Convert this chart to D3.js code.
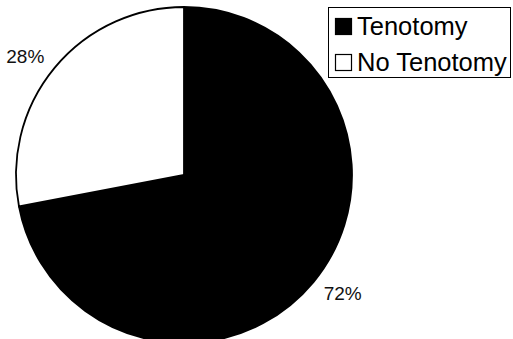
<!DOCTYPE html>
<html>
<head>
<meta charset="utf-8">
<script src="https://cdn.jsdelivr.net/npm/d3@7"></script>
<style>
  html, body { margin: 0; padding: 0; background: #fff; }
  svg { display: block; font-family: "Liberation Sans", Arial, sans-serif; }
</style>
</head>
<body>
<svg id="chart" width="513" height="339"></svg>
<script>
const categories = ["Tenotomy", "No Tenotomy"];
const values = [72, 28];
const labels = ["72%", "28%"];
const fills = ["#000000", "#ffffff"];

const svg = d3.select("#chart");
const cx = 184, cy = 175, r = 168;

const pie = d3.pie().sort(null).value(d => d)(values);
const arc = d3.arc().innerRadius(0).outerRadius(r);
const labelArc = d3.arc().innerRadius(200).outerRadius(200);

const g = svg.append("g").attr("transform", `translate(${cx},${cy})`);
g.selectAll("path.slice").data(pie).enter().append("path")
  .attr("class", "slice")
  .attr("d", arc)
  .attr("fill", (d, i) => fills[i])
  .attr("stroke", "#000")
  .attr("stroke-width", 1.8);

g.selectAll("text.lbl").data(pie).enter().append("text")
  .attr("class", "lbl")
  .attr("transform", d => {
    const [x, y] = labelArc.centroid(d);
    return `translate(${x * 1.03},${y * 0.93})`;
  })
  .attr("text-anchor", "middle")
  .attr("dy", "0.35em")
  .attr("font-size", 19)
  .attr("fill", "#111")
  .text((d, i) => labels[i]);

// Legend
const lg = svg.append("g");
lg.append("rect").attr("x", 328.5).attr("y", 7.5).attr("width", 182).attr("height", 70)
  .attr("fill", "#fff").attr("stroke", "#000").attr("stroke-width", 1);
categories.forEach((c, i) => {
  const y = 18 + i * 36;
  lg.append("rect").attr("x", 335.5).attr("y", y + 0.5).attr("width", 16).attr("height", 16)
    .attr("fill", fills[i]).attr("stroke", "#000").attr("stroke-width", 1.2);
  lg.append("text").attr("x", 357).attr("y", y + 16.5)
    .attr("font-size", 25.5).attr("fill", "#000").text(c);
});
</script>
</body>
</html>
